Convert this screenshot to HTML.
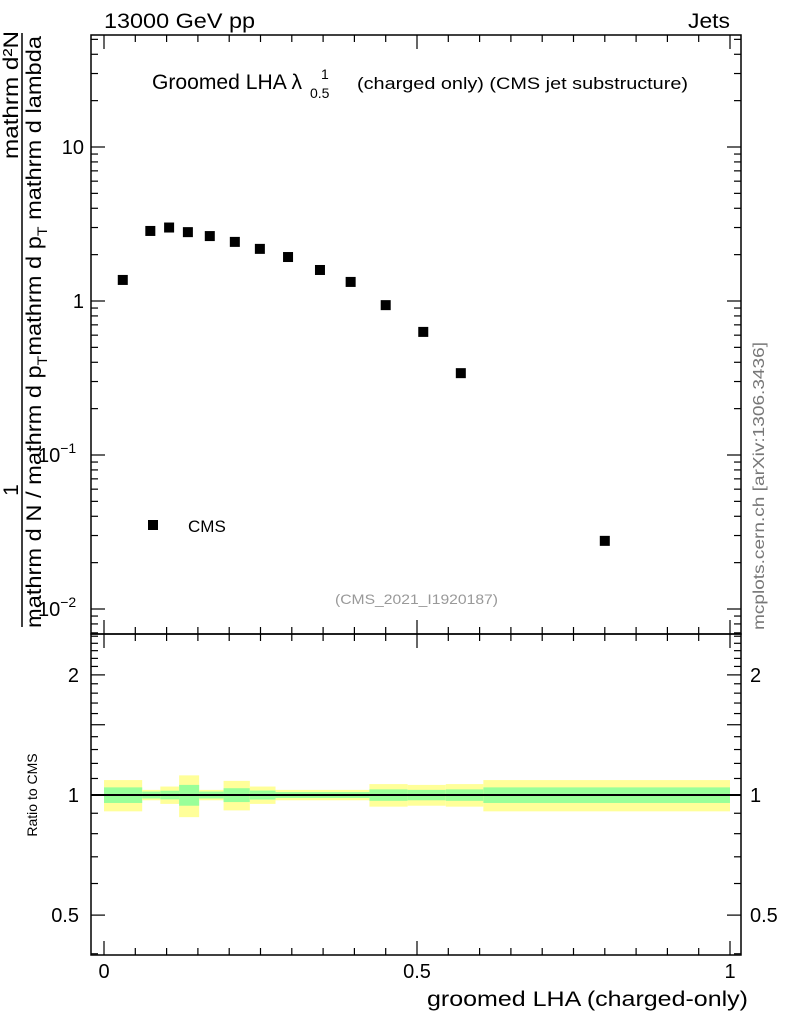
<!DOCTYPE html>
<html><head><meta charset="utf-8"><style>
body{margin:0;background:#fff;}
svg{display:block;font-family:"Liberation Sans",sans-serif;}
</style></head><body>
<svg id="c" width="786" height="1024" viewBox="0 0 786 1024" xmlns="http://www.w3.org/2000/svg">
<rect width="786" height="1024" fill="#fff"/>
<text x="104" y="28" font-size="21" textLength="151" lengthAdjust="spacingAndGlyphs">13000 GeV pp</text>
<text x="688" y="28" font-size="21" textLength="42" lengthAdjust="spacingAndGlyphs">Jets</text>
<g>
<text x="152" y="89" font-size="21" textLength="150" lengthAdjust="spacingAndGlyphs">Groomed LHA λ</text>
<text x="321" y="79" font-size="14">1</text>
<text x="310" y="98" font-size="14">0.5</text>
<text x="357" y="89" font-size="17" textLength="331" lengthAdjust="spacingAndGlyphs">(charged only) (CMS jet substructure)</text>
</g>
<g font-size="21">
<text transform="translate(18,95) rotate(-90)" text-anchor="middle" textLength="128" lengthAdjust="spacingAndGlyphs">mathrm d²N</text>
<text transform="translate(18,490) rotate(-90)" text-anchor="middle">1</text>
<line x1="22" y1="33" x2="22" y2="627" stroke="#000" stroke-width="1.5"/>
<text transform="translate(41,628) rotate(-90)" textLength="592" lengthAdjust="spacingAndGlyphs">mathrm d N / mathrm d p<tspan font-size="14" dy="6">T</tspan><tspan dy="-6">mathrm d p</tspan><tspan font-size="14" dy="6">T</tspan><tspan dy="-6"> mathrm d lambda</tspan></text>
</g>
<text transform="translate(764,630) rotate(-90)" font-size="16" fill="#777" textLength="288" lengthAdjust="spacingAndGlyphs">mcplots.cern.ch [arXiv:1306.3436]</text>
<text x="335" y="604" font-size="14" fill="#999" textLength="163" lengthAdjust="spacingAndGlyphs">(CMS_2021_I1920187)</text>
<g id="main"></g>
<g id="ratio"></g>
<text x="427" y="1006" font-size="21" textLength="321" lengthAdjust="spacingAndGlyphs">groomed LHA (charged-only)</text>
<text transform="translate(37,795) rotate(-90)" text-anchor="middle" font-size="14">Ratio to CMS</text>
<rect x="148" y="520" width="10" height="10" fill="#000"/>
<text x="188" y="532" font-size="17">CMS</text>
</svg>
<script>
const xVals=[0.03,0.074,0.104,0.134,0.169,0.209,0.249,0.294,0.345,0.394,0.45,0.51,0.57,0.80];
const yVals=[1.37,2.85,3.0,2.8,2.64,2.42,2.18,1.93,1.59,1.33,0.94,0.63,0.34,0.0277];
const bandEdges=[0,0.061,0.09,0.12,0.152,0.191,0.233,0.274,0.424,0.485,0.546,0.606,1.0];
const yellowErr=[0.09,0.03,0.05,0.12,0.03,0.085,0.05,0.03,0.065,0.06,0.065,0.09];
const greenErr=[0.045,0.02,0.025,0.06,0.02,0.04,0.026,0.017,0.033,0.03,0.033,0.045];
const NS='http://www.w3.org/2000/svg';
const L=91,R=741,T=35,MB=634,B=955;
const X=v=>104+v*626;
const Y=v=>301-Math.log10(v)*154;
const RY=v=>795-Math.log10(v)*399;
function mk(p,t,a){const e=document.createElementNS(NS,t);for(const k in a)e.setAttribute(k,a[k]);p.appendChild(e);return e;}
const main=document.getElementById('main'),ratio=document.getElementById('ratio');
for(let i=0;i<yellowErr.length;i++){
 const x0=X(bandEdges[i]),x1=X(bandEdges[i+1]);
 const y=mk(ratio,'rect',{x:x0,y:RY(1+yellowErr[i]),width:x1-x0,height:RY(1-yellowErr[i])-RY(1+yellowErr[i]),fill:'#ffff99'});
 
 
 const g=mk(ratio,'rect',{x:x0,y:RY(1+greenErr[i]),width:x1-x0,height:RY(1-greenErr[i])-RY(1+greenErr[i]),fill:'#99ff99'});
 
 
}
const rl=mk(ratio,'line',{x1:L,x2:R,y1:RY(1),y2:RY(1),stroke:'#000','stroke-width':2});


for(let i=0;i<xVals.length;i++){
 const r=mk(main,'rect',{x:X(xVals[i])-5,y:Y(yVals[i])-5,width:10,height:10,fill:'#000'});
 
 
}
const f1=mk(main,'rect',{x:L,y:T,width:R-L,height:MB-T,fill:'none',stroke:'#000','stroke-width':1.5});


const f2=mk(ratio,'rect',{x:L,y:MB,width:R-L,height:B-MB,fill:'none',stroke:'#000','stroke-width':1.5});


const ax=mk(document.getElementById('c'),'g',{stroke:'#000','stroke-width':1.2});


for(let k=0;k<=20;k++){const v=k*0.05,x=X(v),len=(k%10==0)?14:7;
 for(const [yt,yb] of [[T,MB],[MB,B]]){mk(ax,'line',{x1:x,x2:x,y1:yt,y2:yt+len});mk(ax,'line',{x1:x,x2:x,y1:yb,y2:yb-len});}}
const xl=['0','0.5','1'];
[0,0.5,1].forEach((v,i)=>{const t=mk(document.getElementById('c'),'text',{x:X(v),y:978,'font-size':20,'text-anchor':'middle'});t.textContent=xl[i];
 
 });
for(let d=-3;d<=1;d++)for(let m=1;m<10;m++){const v=m*Math.pow(10,d),y=Y(v);if(y<T||y>MB)continue;const len=m==1?14:7;
 mk(ax,'line',{x1:L,x2:L+len,y1:y,y2:y});mk(ax,'line',{x1:R,x2:R-len,y1:y,y2:y});}
const yl=[[10,'10'],[1,'1'],[0.1,'10<tspan font-size="14" dy="-9">−1</tspan>'],[0.01,'10<tspan font-size="14" dy="-9">−2</tspan>']];
yl.forEach(([v,s])=>{const t=mk(document.getElementById('c'),'text',{x:84,y:Y(v)+7,'font-size':20,'text-anchor':'end'});t.innerHTML=s;
 if(v<1){t.setAttribute('x',38);t.setAttribute('text-anchor','start');}
 
 });
for(let k=4;k<=25;k++){const v=k/10,y=RY(v);if(y<MB||y>B)continue;const len=(k==5||k==10||k==15||k==20)?14:7;
 mk(ax,'line',{x1:L,x2:L+len,y1:y,y2:y});mk(ax,'line',{x1:R,x2:R-len,y1:y,y2:y});}
[[2,'2'],[1,'1'],[0.5,'0.5']].forEach(([v,s])=>{
 const a=mk(document.getElementById('c'),'text',{x:79,y:RY(v)+7,'font-size':20,'text-anchor':'end'});a.textContent=s;
 
 
 const b=mk(document.getElementById('c'),'text',{x:750,y:RY(v)+7,'font-size':20});b.textContent=s;
 
 });
</script>
</body></html>
